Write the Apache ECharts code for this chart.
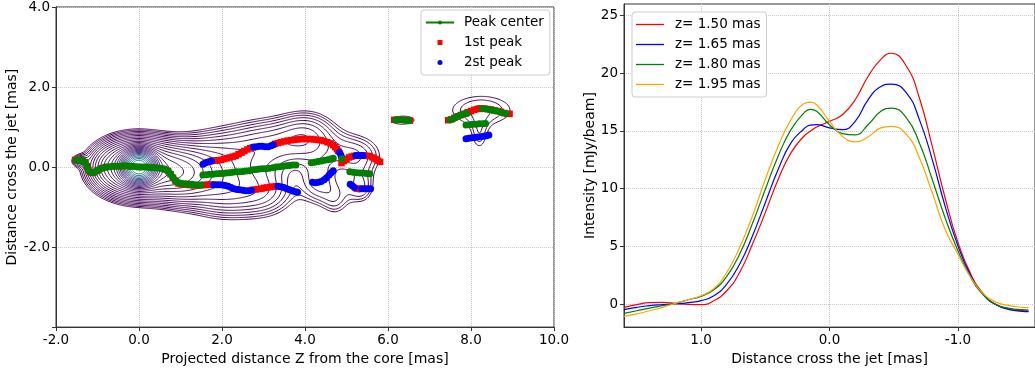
<!DOCTYPE html>
<html>
<head>
<meta charset="utf-8">
<script src="https://cdn.jsdelivr.net/npm/echarts@6/dist/echarts.min.js"></script>
<style>
html, body { margin: 0; padding: 0; background: #fff; }
#main { width: 1035px; height: 371px; }
</style>
</head>
<body>
<div id="main"></div>
<script>
// ---- left panel: peak positions along the jet [x (mas), y (mas)], null = break ----
var peakCenter = [
  [-1.52,0.17],[-1.46,0.17],[-1.4,0.17],[-1.34,0.16],[-1.29,0.1],[-1.25,0.0],[-1.21,-0.09],[-1.16,-0.13],
  [-1.1,-0.14],[-1.04,-0.11],[-0.98,-0.07],[-0.92,-0.04],[-0.85,-0.02],[-0.78,0.0],[-0.7,0.01],[-0.62,0.02],
  [-0.54,0.02],[-0.46,0.02],[-0.38,0.03],[-0.3,0.03],[-0.22,0.02],[-0.14,0.02],[-0.06,0.01],[0.02,0.0],
  [0.1,0.0],[0.18,0.0],[0.26,-0.01],[0.34,-0.01],[0.42,-0.02],[0.5,-0.03],[0.58,-0.04],[0.65,-0.07],
  [0.71,-0.11],[0.76,-0.17],[0.81,-0.25],[0.86,-0.32],[0.91,-0.37],[0.97,-0.4],[1.04,-0.41],[1.12,-0.42],
  [1.2,-0.43],[1.28,-0.43],[1.36,-0.44],[1.44,-0.45],[1.5,-0.45],
  null,
  [1.54,-0.2],[1.62,-0.19],[1.7,-0.18],[1.78,-0.18],[1.86,-0.17],[1.94,-0.16],[2.02,-0.16],[2.1,-0.15],
  [2.18,-0.14],[2.26,-0.13],[2.34,-0.12],[2.42,-0.12],[2.5,-0.11],[2.58,-0.1],[2.66,-0.09],[2.74,-0.07],
  [2.82,-0.06],[2.9,-0.05],[2.98,-0.04],[3.06,-0.04],[3.14,-0.03],[3.22,-0.02],[3.3,0.0],[3.38,0.01],
  [3.46,0.02],[3.54,0.03],[3.62,0.04],[3.7,0.05],[3.78,0.05],
  null,
  [4.15,0.11],[4.23,0.12],[4.31,0.14],[4.39,0.15],[4.47,0.17],[4.55,0.18],[4.62,0.2],[4.68,0.22],
  null,
  [4.89,0.21],
  null,
  [5.08,-0.12],[5.16,-0.13],[5.24,-0.14],[5.32,-0.15],[5.4,-0.15],[5.48,-0.16],[5.56,-0.17],
  null,
  [6.18,1.18],[6.26,1.18],[6.34,1.18],[6.42,1.17],[6.5,1.16],
  null,
  [7.5,1.18],[7.57,1.21],[7.64,1.25],[7.71,1.28],[7.78,1.31],[7.85,1.33],[7.9,1.34],
  null,
  [7.88,1.05],[7.96,1.06],[8.04,1.07],[8.12,1.07],[8.2,1.08],[8.28,1.08],[8.35,1.09],
  null,
  [8.28,1.46],[8.36,1.45],[8.44,1.44],[8.52,1.42],[8.6,1.41],[8.68,1.39],[8.76,1.36],[8.84,1.34]
];

var firstPeak = [
  [-1.54,0.18],[-1.48,0.17],[-1.42,0.17],[-1.36,0.16],[-1.3,0.12],[-1.26,0.02],[-1.22,-0.07],[-1.17,-0.13],
  [-1.1,-0.14],[-1.0,-0.09],[-0.9,-0.03],[-0.8,0.0],[-0.6,0.02],[-0.4,0.02],[-0.2,0.02],[0.0,0.0],
  [0.2,0.0],[0.4,-0.02],[0.6,-0.05],[0.7,-0.1],[0.76,-0.18],[0.82,-0.27],[0.88,-0.35],[0.95,-0.41],
  [1.03,-0.43],[1.12,-0.44],[1.22,-0.45],[1.32,-0.46],[1.42,-0.46],
  [1.5,-0.45],[1.57,-0.45],[1.64,-0.44],[1.71,-0.44],[1.77,-0.44],
  [1.77,0.16],[1.84,0.16],[1.91,0.17],[1.98,0.18],[2.05,0.2],[2.12,0.22],[2.19,0.24],[2.26,0.26],
  [2.33,0.28],[2.4,0.32],[2.47,0.36],[2.54,0.4],[2.61,0.44],[2.68,0.47],[2.74,0.49],
  [2.74,-0.57],[2.81,-0.56],[2.88,-0.55],[2.95,-0.54],[3.02,-0.52],[3.09,-0.51],[3.16,-0.5],[3.23,-0.49],[3.3,-0.48],
  [3.28,0.58],[3.35,0.6],[3.42,0.62],[3.5,0.64],[3.58,0.66],[3.66,0.67],[3.74,0.68],[3.82,0.69],
  [3.9,0.7],[3.98,0.7],[4.06,0.7],[4.14,0.7],[4.22,0.69],[4.3,0.68],[4.38,0.67],[4.46,0.65],
  [4.54,0.62],[4.62,0.59],[4.68,0.55],[4.73,0.5],[4.77,0.45],[4.8,0.4],
  [4.88,0.1],[4.94,0.15],[5.0,0.2],[5.06,0.24],[5.12,0.26],[5.18,0.28],
  [5.42,0.29],[5.49,0.28],[5.56,0.27],[5.63,0.24],[5.7,0.2],[5.76,0.16],[5.81,0.13],
  [5.25,-0.54],[5.31,-0.54],
  [6.15,1.18],[6.25,1.18],[6.35,1.18],[6.45,1.17],[6.53,1.16],
  [7.45,1.17],[7.52,1.19],[7.6,1.23],[7.68,1.27],[7.76,1.3],[7.84,1.33],[7.92,1.37],[8.0,1.4],
  [8.08,1.43],[8.16,1.45],[8.24,1.46],[8.32,1.46],[8.4,1.45],[8.48,1.44],[8.56,1.42],[8.64,1.4],
  [8.72,1.38],[8.8,1.35],[8.87,1.33],[8.93,1.33]
];

var secondPeak = [
  [1.54,0.07],[1.59,0.1],[1.64,0.12],[1.7,0.14],[1.75,0.15],
  [1.8,-0.44],[1.87,-0.44],[1.94,-0.44],[2.01,-0.45],[2.08,-0.46],[2.15,-0.48],[2.22,-0.51],[2.29,-0.54],
  [2.36,-0.56],[2.43,-0.57],[2.5,-0.58],[2.57,-0.59],[2.64,-0.59],[2.71,-0.58],
  [2.76,0.5],[2.83,0.51],[2.9,0.52],[2.97,0.52],[3.04,0.51],[3.11,0.51],[3.18,0.53],[3.24,0.56],
  [3.35,-0.48],[3.42,-0.49],[3.49,-0.51],[3.56,-0.54],[3.63,-0.57],[3.7,-0.6],[3.77,-0.62],[3.82,-0.63],
  [4.18,-0.38],[4.25,-0.39],[4.32,-0.38],[4.39,-0.36],[4.46,-0.32],[4.52,-0.27],[4.58,-0.2],[4.63,-0.14],[4.68,-0.09],
  [4.83,0.37],[4.86,0.31],[4.88,0.25],
  [5.22,0.29],[5.28,0.29],[5.34,0.29],[5.4,0.29],
  [5.09,-0.43],[5.14,-0.47],[5.19,-0.51],[5.37,-0.54],[5.44,-0.54],[5.51,-0.54],[5.58,-0.54],
  [7.88,0.71],[7.95,0.72],[8.02,0.73],[8.09,0.74],[8.16,0.75],[8.23,0.76],[8.3,0.77],[8.37,0.78],[8.43,0.8]
];

// brightness components of the map:
// [x, y, amplitude (in units of the lowest contour), sigma x, sigma y]
var mapComponents = [
  [0.0, 0.0, 92, 0.2, 0.2],
  [-0.05, -0.02, 14, 0.55, 0.42],
  [-0.7, 0.0, 2.0, 0.4, 0.35],
  [-1.45, 0.16, 1.5, 0.13, 0.1],
  [1.0, -0.15, 7, 0.5, 0.45],
  [1.9, 0.22, 2.6, 0.55, 0.48],
  [2.0, -0.62, 2.6, 0.55, 0.45],
  [3.0, 0.52, 2.6, 0.6, 0.46],
  [3.0, -0.6, 2.4, 0.55, 0.45],
  [4.05, 0.74, 2.8, 0.5, 0.44],
  [4.3, -0.38, 1.8, 0.3, 0.4],
  [4.75, -0.8, 1.3, 0.25, 0.35],
  [5.2, 0.28, 2.0, 0.5, 0.4],
  [5.35, -0.55, 1.5, 0.25, 0.3],
  [6.33, 1.17, 1.15, 0.38, 0.15],
  [8.25, 1.42, 1.45, 0.8, 0.4],
  [8.2, 0.7, 1.0, 0.17, 0.32]
];
var contourLevels = [1, 1.19, 1.42, 1.69, 2.01, 2.39, 2.84, 3.38, 4.02, 4.79, 5.7, 6.78, 8.07, 9.6,
  11.4, 13.6, 16.2, 19.3, 22.9, 27.3, 32.5, 38.7, 46, 54.8, 65.2, 77.6];
var viridis = ['#440154', '#482475', '#414487', '#355f8d', '#2a788e', '#21918c', '#22a884'];

// ---- right panel: transverse profiles ----
var profileX = [1.6, 1.5, 1.4, 1.3, 1.2, 1.1, 1.0, 0.9, 0.8, 0.7, 0.6, 0.5, 0.4, 0.3, 0.2, 0.15, 0.1,
  0.0, -0.1, -0.2, -0.3, -0.4, -0.48, -0.6, -0.7, -0.8, -0.9, -1.0, -1.1, -1.2, -1.3, -1.4, -1.5, -1.55];
var z150 = [-0.29, -0.06, 0.12, 0.14, 0.06, -0.03, -0.06, 0.29, 1.15, 2.73, 5.18, 7.92, 10.8, 13.1, 14.54, 14.97, 15.34,
  15.83, 16.4, 17.7, 19.72, 21.2, 21.73, 20.58, 17.85, 13.67, 9.21, 5.33, 2.59, 0.86, -0.06, -0.43, -0.58, -0.6];
var z165 = [-0.49, -0.29, -0.14, -0.06, 0.0, 0.12, 0.29, 0.72, 1.73, 3.45, 5.9, 8.78, 11.66, 13.96, 15.17, 15.5, 15.54,
  15.26, 15.11, 15.83, 17.7, 18.85, 19.06, 18.28, 15.98, 12.52, 8.49, 5.04, 2.45, 0.78, -0.09, -0.49, -0.63, -0.66];
var z180 = [-0.81, -0.58, -0.35, -0.14, 0.06, 0.37, 0.66, 1.24, 2.39, 4.32, 6.97, 9.93, 12.81, 15.11, 16.55, 16.87, 16.7,
  15.54, 14.77, 14.65, 15.54, 16.7, 16.98, 16.12, 13.96, 10.79, 7.48, 4.61, 2.3, 0.78, -0.06, -0.37, -0.49, -0.52];
var z195 = [-1.07, -0.86, -0.58, -0.29, 0.06, 0.37, 0.72, 1.35, 2.73, 4.89, 7.63, 10.79, 13.67, 15.98, 17.36, 17.5, 17.27,
  15.83, 14.54, 14.05, 14.48, 15.26, 15.4, 14.68, 12.67, 9.64, 6.48, 4.32, 2.3, 0.86, 0.14, -0.14, -0.29, -0.32];
var profileNames = ['z= 1.50 mas', 'z= 1.65 mas', 'z= 1.80 mas', 'z= 1.95 mas'];
var profileColors = ['#ff0000', '#0000ff', '#008000', '#ffa500'];
var profileTicksX = [1, 0, -1];
var profileTicksY = [0, 5, 10, 15, 20, 25];

var FONT = 'DejaVu Sans';

// ---- contour tracing (marching squares on the model map) ----
var gx0 = -2, gy0 = -1.9, step = 0.025;
var nx = 465, ny = 170;
var vals = new Float64Array(nx * ny);
for (var j = 0; j < ny; j++) {
  for (var i = 0; i < nx; i++) {
    var x = gx0 + i * step, y = gy0 + j * step, s = 0;
    for (var k = 0; k < mapComponents.length; k++) {
      var c = mapComponents[k];
      var dx = (x - c[0]) / c[3], dy = (y - c[1]) / c[4];
      var r2 = dx * dx + dy * dy;
      if (r2 < 60) s += c[2] * Math.exp(-0.5 * r2);
    }
    vals[j * nx + i] = s;
  }
}

function traceContour(level) {
  var pts = {}, segs = [];
  function edgeKey(i, j, e) {
    var ii = i, jj = j, dir;
    if (e === 0) { dir = 0; }
    else if (e === 1) { ii = i + 1; dir = 1; }
    else if (e === 2) { jj = j + 1; dir = 0; }
    else { dir = 1; }
    var key = (jj * nx + ii) * 2 + dir;
    if (pts[key] === undefined) {
      var a = vals[jj * nx + ii];
      var b = dir === 0 ? vals[jj * nx + ii + 1] : vals[(jj + 1) * nx + ii];
      var t = (level - a) / (b - a);
      pts[key] = dir === 0 ? [gx0 + (ii + t) * step, gy0 + jj * step]
                           : [gx0 + ii * step, gy0 + (jj + t) * step];
    }
    return key;
  }
  for (var j = 0; j < ny - 1; j++) {
    for (var i = 0; i < nx - 1; i++) {
      var v0 = vals[j * nx + i], v1 = vals[j * nx + i + 1];
      var v2 = vals[(j + 1) * nx + i + 1], v3 = vals[(j + 1) * nx + i];
      var idx = (v0 > level ? 1 : 0) | (v1 > level ? 2 : 0) | (v2 > level ? 4 : 0) | (v3 > level ? 8 : 0);
      if (idx === 0 || idx === 15) continue;
      var pairs;
      var mid = (v0 + v1 + v2 + v3) / 4 > level;
      switch (idx) {
        case 1: case 14: pairs = [3, 0]; break;
        case 2: case 13: pairs = [0, 1]; break;
        case 3: case 12: pairs = [3, 1]; break;
        case 4: case 11: pairs = [1, 2]; break;
        case 6: case 9: pairs = [0, 2]; break;
        case 7: case 8: pairs = [3, 2]; break;
        case 5: pairs = mid ? [0, 1, 2, 3] : [3, 0, 1, 2]; break;
        case 10: pairs = mid ? [3, 0, 1, 2] : [0, 1, 2, 3]; break;
      }
      for (var p = 0; p < pairs.length; p += 2) {
        segs.push([edgeKey(i, j, pairs[p]), edgeKey(i, j, pairs[p + 1])]);
      }
    }
  }
  var adj = {};
  segs.forEach(function (sg, n) {
    (adj[sg[0]] = adj[sg[0]] || []).push(n);
    (adj[sg[1]] = adj[sg[1]] || []).push(n);
  });
  var used = new Uint8Array(segs.length), lines = [];
  function nextSeg(key) {
    var list = adj[key] || [];
    for (var q = 0; q < list.length; q++) if (!used[list[q]]) return list[q];
    return -1;
  }
  for (var n = 0; n < segs.length; n++) {
    if (used[n]) continue;
    used[n] = 1;
    var chain = [segs[n][0], segs[n][1]];
    var cur = segs[n][1], m;
    while ((m = nextSeg(cur)) >= 0) {
      used[m] = 1;
      cur = segs[m][0] === cur ? segs[m][1] : segs[m][0];
      chain.push(cur);
    }
    cur = segs[n][0];
    while ((m = nextSeg(cur)) >= 0) {
      used[m] = 1;
      cur = segs[m][0] === cur ? segs[m][1] : segs[m][0];
      chain.unshift(cur);
    }
    lines.push({ coords: chain.map(function (key) { return pts[key]; }) });
  }
  return lines;
}

function levelColor(level) {
  var lo = contourLevels[0], hi = 2 * contourLevels[contourLevels.length - 1];
  var t = (level - lo) / (hi - lo) * 10;
  var a = Math.min(Math.floor(t), viridis.length - 2), f = t - a;
  var c0 = echarts.color.parse(viridis[a]), c1 = echarts.color.parse(viridis[a + 1]);
  return 'rgb(' + [0, 1, 2].map(function (q) { return Math.round(c0[q] + (c1[q] - c0[q]) * f); }).join(',') + ')';
}

var series = [];
contourLevels.forEach(function (lv, n) {
  series.push({
    name: 'level' + n,
    type: 'lines',
    coordinateSystem: 'cartesian2d',
    xAxisIndex: 0, yAxisIndex: 0,
    polyline: true,
    silent: true,
    z: 1,
    lineStyle: { color: levelColor(lv), width: 1, opacity: 1 },
    data: traceContour(lv)
  });
});

series.push({
  name: '1st peak', type: 'scatter', xAxisIndex: 0, yAxisIndex: 0, z: 3,
  symbol: 'rect', symbolSize: 6.5, itemStyle: { color: '#ff0000', opacity: 1 },
  data: firstPeak
});
series.push({
  name: '2st peak', type: 'scatter', xAxisIndex: 0, yAxisIndex: 0, z: 4,
  symbol: 'circle', symbolSize: 7, itemStyle: { color: '#0000ff', opacity: 1 },
  data: secondPeak
});
series.push({
  name: 'Peak center', type: 'line', xAxisIndex: 0, yAxisIndex: 0, z: 5,
  symbol: 'circle', symbolSize: 7, showAllSymbol: true, connectNulls: false,
  itemStyle: { color: '#008000', opacity: 1 }, lineStyle: { color: '#008000', width: 1.5 },
  data: peakCenter.map(function (p) { return p ? p : ['-', '-']; })
});

[z150, z165, z180, z195].forEach(function (arr, n) {
  series.push({
    name: profileNames[n], type: 'line', xAxisIndex: 1, yAxisIndex: 1,
    symbol: 'none', smooth: 0.5,
    lineStyle: { color: profileColors[n], width: 1.2 },
    itemStyle: { color: profileColors[n] },
    data: profileX.map(function (x, q) { return [x, arr[q]]; })
  });
});

var nameText = { fontFamily: FONT, fontSize: 14, color: '#000' };
var tickText = { fontFamily: FONT, fontSize: 13.5, color: '#000' };
var gridLine = { show: true, lineStyle: { type: 'dotted', color: '#c8c8c8', width: 1 } };
var spine = { show: true, onZero: false, lineStyle: { color: '#333', width: 1 } };
var tick = { show: true, length: 4, lineStyle: { color: '#333' } };
var lineIcon = 'path://M0,0H28V1.3H0Z';

var chart = echarts.init(document.getElementById('main'));
chart.setOption({
  animation: false,
  backgroundColor: '#fff',
  grid: [
    { left: 56, top: 4, width: 498, height: 324, show: true, borderColor: '#333', borderWidth: 1 },
    { left: 624, top: 4, width: 416, height: 324, show: true, borderColor: '#333', borderWidth: 1 }
  ],
  xAxis: [
    {
      type: 'value', gridIndex: 0, min: -2, max: 10, interval: 2,
      name: 'Projected distance Z from the core [mas]', nameLocation: 'middle', nameGap: 20,
      nameTextStyle: nameText,
      axisLine: spine, axisTick: tick, splitLine: gridLine,
      axisLabel: Object.assign({ margin: 6, formatter: function (v) { return v.toFixed(1); } }, tickText)
    },
    {
      type: 'value', gridIndex: 1, min: -1.6, max: 1.6, inverse: true,
      name: 'Distance cross the jet [mas]', nameLocation: 'middle', nameGap: 20,
      nameTextStyle: nameText,
      axisLine: spine, axisTick: Object.assign({ customValues: profileTicksX }, tick), splitLine: gridLine,
      axisLabel: Object.assign({ margin: 6, customValues: profileTicksX,
        formatter: function (v) { return v.toFixed(1); } }, tickText)
    }
  ],
  yAxis: [
    {
      type: 'value', gridIndex: 0, min: -4, max: 4, interval: 2,
      name: 'Distance cross the jet [mas]', nameLocation: 'middle', nameGap: 36,
      nameTextStyle: nameText,
      axisLine: spine, axisTick: tick, splitLine: gridLine,
      axisLabel: Object.assign({ margin: 6, formatter: function (v) { return v === -4 ? '' : v.toFixed(1); } }, tickText)
    },
    {
      type: 'value', gridIndex: 1, min: -2, max: 26,
      name: 'Intensity [mJy/beam]', nameLocation: 'middle', nameGap: 24,
      nameTextStyle: nameText,
      axisLine: spine, axisTick: Object.assign({ customValues: profileTicksY }, tick), splitLine: gridLine,
      axisLabel: Object.assign({ margin: 6, customValues: profileTicksY }, tickText)
    }
  ],
  legend: [
    {
      data: [
        { name: 'Peak center' },
        { name: '1st peak', icon: 'path://M0,0H10V10H0Z' },
        { name: '2st peak', icon: 'circle' }
      ],
      orient: 'vertical', left: 421, top: 10,
      itemWidth: 28, itemHeight: 5, itemGap: 5,
      textStyle: { fontFamily: FONT, fontSize: 13.5, color: '#000', lineHeight: 15, padding: [0, 0, 0, 5] },
      backgroundColor: '#fff', borderColor: '#ccc', borderWidth: 1, borderRadius: 3,
      padding: [5, 6, 5, 4]
    },
    {
      data: profileNames.map(function (nm) { return { name: nm, icon: lineIcon }; }),
      orient: 'vertical', left: 632, top: 12,
      itemWidth: 28, itemHeight: 5, itemGap: 5,
      textStyle: { fontFamily: FONT, fontSize: 13.5, color: '#000', lineHeight: 15, padding: [0, 0, 0, 6] },
      backgroundColor: '#fff', borderColor: '#ccc', borderWidth: 1, borderRadius: 3,
      padding: [5, 6, 5, 4]
    }
  ],
  series: series
});
</script>
</body>
</html>
